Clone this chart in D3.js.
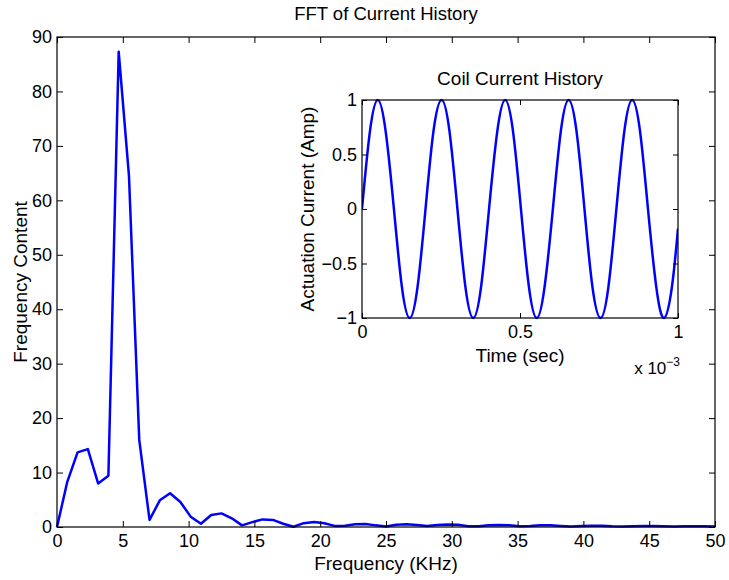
<!DOCTYPE html>
<html>
<head>
<meta charset="utf-8">
<script src="https://cdn.jsdelivr.net/npm/d3@7"></script>
<style>
  html, body { margin: 0; padding: 0; background: #fff; }
  svg { display: block; }
  text { font-family: "Liberation Sans", Arial, Helvetica, sans-serif; fill: #000; }
</style>
</head>
<body>
<script>
// FFT magnitude spectrum (frequency in KHz)
const freqKHz = [0, 0.781, 1.563, 2.344, 3.125, 3.906, 4.688, 5.469, 6.25, 7.031,
  7.813, 8.594, 9.375, 10.156, 10.938, 11.719, 12.5, 13.281, 14.063, 14.844,
  15.625, 16.406, 17.188, 17.969, 18.75, 19.531, 20.313, 21.094, 21.875, 22.656,
  23.438, 24.219, 25, 25.781, 26.563, 27.344, 28.125, 28.906, 29.688, 30.469,
  31.25, 32.031, 32.813, 33.594, 34.375, 35.156, 35.938, 36.719, 37.5, 38.281,
  39.063, 39.844, 40.625, 41.406, 42.188, 42.969, 43.75, 44.531, 45.313, 46.094,
  46.875, 47.656, 48.438, 49.219, 50];
const freqContent = [0, 8.3, 13.7, 14.3, 8.0, 9.4, 87.3, 64.5, 16.0, 1.3,
  4.9, 6.2, 4.6, 1.9, 0.6, 2.2, 2.5, 1.6, 0.3, 0.9,
  1.4, 1.3, 0.6, 0.05, 0.7, 0.9, 0.7, 0.2, 0.25, 0.5,
  0.55, 0.3, 0.1, 0.4, 0.5, 0.35, 0.2, 0.35, 0.45, 0.4,
  0.15, 0.15, 0.3, 0.35, 0.3, 0.15, 0.2, 0.3, 0.3, 0.2,
  0.1, 0.2, 0.25, 0.25, 0.15, 0.1, 0.15, 0.2, 0.2, 0.15,
  0.1, 0.15, 0.15, 0.15, 0.1];
const freqTicks = [0, 5, 10, 15, 20, 25, 30, 35, 40, 45, 50];
const contentTicks = [0, 10, 20, 30, 40, 50, 60, 70, 80, 90];

// Coil current history (time in units of 1e-3 sec)
const timeMs = [0, 0.025, 0.050, 0.075, 0.101, 0.126, 0.151, 0.176, 0.201, 0.226,
  0.252, 0.277, 0.302, 0.327, 0.352, 0.377, 0.402, 0.428, 0.453, 0.478,
  0.503, 0.528, 0.553, 0.578, 0.604, 0.629, 0.654, 0.679, 0.704, 0.729,
  0.755, 0.780, 0.805, 0.830, 0.855, 0.880, 0.905, 0.931, 0.956, 0.981, 1.0];
const currentAmp = [0, 0.71, 1, 0.71, 0, -0.71, -1, -0.71,
  0, 0.71, 1, 0.71, 0, -0.71, -1, -0.71,
  0, 0.71, 1, 0.71, 0, -0.71, -1, -0.71,
  0, 0.71, 1, 0.71, 0, -0.71, -1, -0.71,
  0, 0.71, 1, 0.71, 0, -0.71, -1, -0.71, -0.18];
const timeTicks = [0, 0.5, 1];
const ampTicks = [-1, -0.5, 0, 0.5, 1];

const W = 729, H = 580;
const svg = d3.select("body").append("svg").attr("width", W).attr("height", H);

const fmt = v => (v < 0 ? "\u2212" + Math.abs(v) : String(v));
const tickFont = 18;
const labelFont = 19;

function drawBoxAxes(g, xs, ys, box, xt, yt, tickLen, xPad, yPad, xfmt, yfmt) {
  // bottom (labelled) and top (ticks only)
  g.append("g").attr("transform", `translate(0,${box.b})`)
    .call(d3.axisBottom(xs).tickValues(xt).tickSizeInner(-tickLen).tickSizeOuter(0).tickPadding(xPad).tickFormat(xfmt))
    .call(a => a.select(".domain").remove());
  g.append("g").attr("transform", `translate(0,${box.t})`)
    .call(d3.axisTop(xs).tickValues(xt).tickSizeInner(-tickLen).tickSizeOuter(0).tickFormat(""))
    .call(a => a.select(".domain").remove());
  g.append("g").attr("transform", `translate(${box.l},0)`)
    .call(d3.axisLeft(ys).tickValues(yt).tickSizeInner(-tickLen).tickSizeOuter(0).tickPadding(yPad).tickFormat(yfmt))
    .call(a => a.select(".domain").remove());
  g.append("g").attr("transform", `translate(${box.r},0)`)
    .call(d3.axisRight(ys).tickValues(yt).tickSizeInner(-tickLen).tickSizeOuter(0).tickFormat(""))
    .call(a => a.select(".domain").remove());
  g.selectAll(".tick line").attr("stroke", "#000").attr("stroke-width", 1);
  g.selectAll(".tick text").style("font-size", tickFont + "px")
    .style("font-family", "'Liberation Sans', Arial, sans-serif").attr("fill", "#000");
  g.append("rect").attr("x", box.l).attr("y", box.t)
    .attr("width", box.r - box.l).attr("height", box.b - box.t)
    .attr("fill", "none").attr("stroke", "#000").attr("stroke-width", 1.2);
}

// ---------- main axes ----------
const main = { l: 57, r: 715, t: 37, b: 527 };
const x = d3.scaleLinear().domain([0, 50]).range([main.l, main.r]);
const y = d3.scaleLinear().domain([0, 90]).range([main.b, main.t]);

const gMain = svg.append("g");
gMain.append("rect").attr("x", main.l).attr("y", main.t)
  .attr("width", main.r - main.l).attr("height", main.b - main.t).attr("fill", "#fff");

const spectrum = freqKHz.map((f, i) => [f, freqContent[i]]);
gMain.append("path").datum(spectrum)
  .attr("fill", "none").attr("stroke", "#0000ff").attr("stroke-width", 2.5)
  .attr("stroke-linejoin", "round")
  .attr("d", d3.line().x(d => x(d[0])).y(d => y(d[1])));

drawBoxAxes(gMain, x, y, main, freqTicks, contentTicks, 6, 7, 5, d => String(d), d => String(d));

gMain.append("text").attr("x", (main.l + main.r) / 2).attr("y", 20)
  .attr("text-anchor", "middle").style("font-size", "18.5px").text("FFT of Current History");
gMain.append("text").attr("x", (main.l + main.r) / 2).attr("y", 570)
  .attr("text-anchor", "middle").style("font-size", labelFont + "px").text("Frequency (KHz)");
gMain.append("text").attr("transform", `translate(27,${(main.t + main.b) / 2}) rotate(-90)`)
  .attr("text-anchor", "middle").style("font-size", labelFont + "px").text("Frequency Content");

// ---------- inset axes ----------
const ins = { l: 362, r: 678, t: 100, b: 318 };
const xi = d3.scaleLinear().domain([0, 1]).range([ins.l, ins.r]);
const yi = d3.scaleLinear().domain([-1, 1]).range([ins.b, ins.t]);

const gIn = svg.append("g");
gIn.append("rect").attr("x", ins.l).attr("y", ins.t)
  .attr("width", ins.r - ins.l).attr("height", ins.b - ins.t).attr("fill", "#fff");

const clip = svg.append("defs").append("clipPath").attr("id", "insetClip");
clip.append("rect").attr("x", ins.l).attr("y", ins.t - 2)
  .attr("width", ins.r - ins.l).attr("height", ins.b - ins.t + 4);

const history = timeMs.map((t, i) => [t, currentAmp[i]]);
gIn.append("path").datum(history)
  .attr("clip-path", "url(#insetClip)")
  .attr("fill", "none").attr("stroke", "#0000ff").attr("stroke-width", 2.5)
  .attr("d", d3.line().curve(d3.curveNatural).x(d => xi(d[0])).y(d => yi(d[1])));

drawBoxAxes(gIn, xi, yi, ins, timeTicks, ampTicks, 5, 7, 5, d => String(d), fmt);

gIn.append("text").attr("x", (ins.l + ins.r) / 2).attr("y", 85)
  .attr("text-anchor", "middle").style("font-size", labelFont + "px").text("Coil Current History");
gIn.append("text").attr("x", (ins.l + ins.r) / 2).attr("y", 362)
  .attr("text-anchor", "middle").style("font-size", labelFont + "px").text("Time (sec)");
gIn.append("text").attr("transform", `translate(314,${(ins.t + ins.b) / 2}) rotate(-90)`)
  .attr("text-anchor", "middle").style("font-size", labelFont + "px").text("Actuation Current (Amp)");

// exponent label for the time axis
const expo = gIn.append("text").attr("x", ins.r + 2).attr("y", 374)
  .attr("text-anchor", "end").style("font-size", "17px");
expo.append("tspan").text("x 10");
expo.append("tspan").attr("dy", -8).style("font-size", "12px").text("\u22123");
</script>
</body>
</html>
